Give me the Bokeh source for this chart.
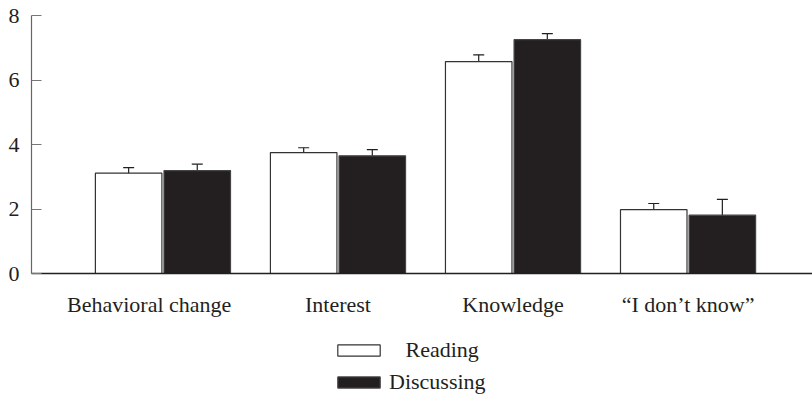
from bokeh.plotting import figure
from bokeh.layouts import column
from bokeh.models import ColumnDataSource, Whisker, TeeHead, FixedTicker, Legend, LegendItem, Range1d
from bokeh.embed import file_html
from bokeh.resources import INLINE

categories = ["Behavioral change", "Interest", "Knowledge", "\u201cI don\u2019t know\u201d"]
reading = [3.11, 3.75, 6.57, 1.98]
reading_err = [0.17, 0.15, 0.21, 0.19]
discussing = [3.19, 3.65, 7.25, 1.81]
discussing_err = [0.20, 0.19, 0.19, 0.49]
y_ticks = [0, 2, 4, 6, 8]
series_names = ["Reading", "Discussing"]

FONT = "Liberation Serif"
TXT = "#231f20"
offset = 0.196
bw = 0.38
READ_STYLE = dict(fill_color="white", line_color="#333333", line_width=1.2)
DISC_STYLE = dict(fill_color="#231f20", line_color="#444444", line_width=1.2)

xs = list(range(len(categories)))
src_r = ColumnDataSource(dict(
    x=[i - offset for i in xs], top=reading,
    lo=[v - e for v, e in zip(reading, reading_err)],
    hi=[v + e for v, e in zip(reading, reading_err)]))
src_d = ColumnDataSource(dict(
    x=[i + offset for i in xs], top=discussing,
    lo=[v - e for v, e in zip(discussing, discussing_err)],
    hi=[v + e for v, e in zip(discussing, discussing_err)]))

p = figure(frame_width=781, frame_height=258, output_backend="svg", toolbar_location=None,
           x_range=Range1d(-0.751, 3.711), y_range=Range1d(0, 8),
           min_border_left=31, min_border_right=0, min_border_top=15, min_border_bottom=60)
p.outline_line_color = None
p.grid.grid_line_color = None
p.background_fill_color = "white"

p.vbar(x="x", top="top", width=bw, source=src_r, **READ_STYLE)
p.vbar(x="x", top="top", width=bw, source=src_d, **DISC_STYLE)

for src in (src_r, src_d):
    w = Whisker(base="x", lower="lo", upper="hi", source=src,
                line_color="#231f20", line_width=1.2,
                upper_head=TeeHead(size=11, line_color="#231f20", line_width=1.2),
                lower_head=TeeHead(size=11, line_color="#231f20", line_width=1.2))
    p.add_layout(w)

# axes
labels = list(categories)
labels[0] = labels[0] + "\u00a0" * 5
p.xaxis.ticker = FixedTicker(ticks=xs)
p.xaxis.major_label_overrides = {i: c for i, c in enumerate(labels)}
p.xaxis.major_tick_line_color = None
p.xaxis.minor_tick_line_color = None
p.xaxis.axis_line_color = "#231f20"
p.xaxis.axis_line_width = 1.5
p.xaxis.major_label_standoff = 12

p.yaxis.ticker = FixedTicker(ticks=y_ticks)
p.yaxis.major_tick_in = 10
p.yaxis.major_tick_out = 0
p.yaxis.minor_tick_line_color = None
p.yaxis.major_tick_line_color = "#777777"
p.yaxis.axis_line_color = "#666666"
p.yaxis.axis_line_width = 1.2
p.yaxis.major_label_standoff = 12

for ax in (p.xaxis, p.yaxis):
    ax.major_label_text_font = FONT
    ax.major_label_text_font_size = "22px"
    ax.major_label_text_color = TXT

# legend panel (separate small figure below the chart); its glyph renderers hold no visible data
lg = figure(width=812, height=64, output_backend="svg", toolbar_location=None,
            x_axis_location=None, y_axis_location=None,
            x_range=Range1d(0, 1), y_range=Range1d(0, 1),
            min_border=0)
lg.outline_line_color = None
lg.grid.grid_line_color = None
nan = float("nan")
lr1 = lg.vbar(x=[nan], top=[nan], width=0.1, **READ_STYLE)
lr2 = lg.vbar(x=[nan], top=[nan], width=0.1, **DISC_STYLE)

legend = Legend(items=[LegendItem(label="\u00a0\u00a0\u00a0" + series_names[0], renderers=[lr1]),
                       LegendItem(label=series_names[1], renderers=[lr2])],
                location=(301, 2), orientation="vertical",
                label_text_font=FONT, label_text_font_size="22px", label_text_color=TXT,
                glyph_width=53, glyph_height=14, label_standoff=4, spacing=6,
                border_line_color=None, background_fill_alpha=0,
                padding=0, margin=0)
lg.add_layout(legend)

layout = column(p, lg, spacing=0)
open("out.html", "w").write(file_html(layout, INLINE))
